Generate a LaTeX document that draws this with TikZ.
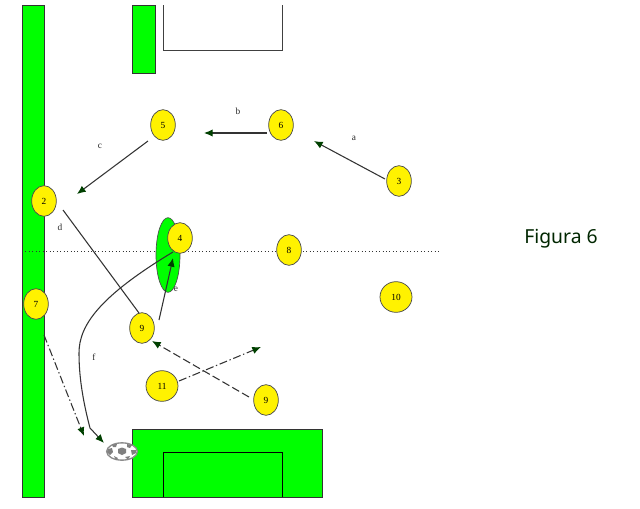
\documentclass[tikz,border=0pt]{standalone}
\usepackage{fontspec}
\setmainfont{Liberation Serif}
\newfontfamily\figfont{Noto Sans}
\usetikzlibrary{arrows.meta,shapes.geometric}
\tikzset{
  x=0.75pt,y=-0.75pt,
  gfill/.style={fill=green,draw=black!80,line width=0.75pt},
  player/.style={ellipse,draw=black!70,fill=yellow,line width=0.55pt,minimum width=18.5pt,minimum height=23pt,inner sep=0pt,font=\fontsize{7}{8}\selectfont},
  bigplayer/.style={player,minimum width=24pt,minimum height=23pt},
  lab/.style={font=\fontsize{7}{8}\selectfont,inner sep=0pt,text=black!85},
  arr/.style={draw=black!80,line width=0.8pt,-{Latex[length=6.5pt,width=5.5pt,color=green!25!black]}},
  dd/.style={arr,dash pattern=on 6pt off 2pt on 1pt off 2pt},
  dsh/.style={arr,dash pattern=on 6pt off 2.5pt},
}
\begin{document}
\begin{tikzpicture}
\useasboundingbox (0,0) rectangle (640,508);
% field
\draw[gfill] (22,5) rectangle (44,497);
\draw[gfill] (132,5) rectangle (155,73);
\draw[draw=black!75,line width=0.7pt] (163,5) -- (163,50) -- (282,50) -- (282,5);
\draw[gfill] (132,429) rectangle (322,497);
\draw[draw=black,line width=0.6pt] (163,497) -- (163,452) -- (282,452) -- (282,497);
% midline
\draw[black!80,line width=0.6pt,dotted] (22,251) -- (439,251);
% marker ellipse
\node[ellipse,draw=black!70,fill=green,line width=0.5pt,minimum width=18pt,minimum height=56pt,inner sep=0pt] (mark) at (168,255) {};
% players
\node[player] (p5) at (163,125) {5};
\node[player] (p6) at (281,125) {6};
\node[player] (p3) at (399,181) {3};
\node[player] (p2) at (44,201) {2};
\node[player] (p4) at (180,238) {4};
\node[player] (p8) at (289,250) {8};
\node[player] (p7) at (36,304) {7};
\node[bigplayer] (p10) at (396,297) {10};
\node[player] (p9a) at (142,328) {9};
\node[bigplayer] (p11) at (162,386) {11};
\node[player] (p9b) at (266,400) {9};
% ball
\node[ellipse,draw=black!45,fill=white,line width=1pt,minimum width=23pt,minimum height=13pt,inner sep=0pt] (ball) at (122,451.5) {};
\fill[black!50] (118,449) -- (122,447.5) -- (126,449) -- (126,453) -- (122,455) -- (118,453) -- cycle;
\fill[black!50] (108,449) -- (112,448) -- (113,452) -- (110,455) -- (107,452) -- cycle;
\fill[black!50] (112,444.5) -- (117,444) -- (116,447) -- (113,447) -- cycle;
\fill[black!50] (127,444) -- (132,445) -- (130,448) -- (127,447) -- cycle;
\fill[black!50] (131,450) -- (136,450) -- (136,453) -- (132,455) -- cycle;
\fill[black!50] (114,456) -- (118,458) -- (116,460) -- cycle;
\fill[black!50] (125,457) -- (130,456) -- (128,459.5) -- cycle;
% free ends
\coordinate (aS) at (385,179); \coordinate (aE) at (314,141);
\coordinate (bS) at (267,133); \coordinate (bE) at (204,133);
\coordinate (cS) at (148,141); \coordinate (cE) at (77,194);
\coordinate (dS) at (63,210);  \coordinate (dE) at (139,313);
\coordinate (eS) at (159,320); \coordinate (eE) at (173,258);
\coordinate (fS) at (173,252); \coordinate (fM) at (90,428); \coordinate (fE) at (104,443);
\coordinate (gS) at (44,335);  \coordinate (gE) at (84,436);
\coordinate (hS) at (249,397); \coordinate (hE) at (152,341);
\coordinate (iS) at (179,381); \coordinate (iE) at (261,347);
% connectors
\draw[arr] (aS) -- (aE);
\draw[arr] (bS) -- (bE);
\draw[arr] (cS) -- (cE);
\draw[draw=black!80,line width=0.8pt] (dS) -- (dE);
\draw[arr] (eS) -- (eE);
\draw[arr] (fS) .. controls (100,296) and (79,325) .. (79,353) .. controls (79,380) and (84,405) .. (fM) -- (fE);
\draw[dd] (gS) -- (gE);
\draw[dsh] (hS) -- (hE);
\draw[dd] (iS) -- (iE);
% labels
\node[lab] (la) at (354,138) {a};
\node[lab] (lb) at (238,111) {b};
\node[lab] (lc) at (100,146) {c};
\node[lab] (ld) at (60,227) {d};
\node[lab] (le) at (176,289) {e};
\node[lab] (lf) at (94,357) {f};
\node[inner sep=0pt,font=\figfont\fontsize{14.5}{16}\selectfont,text=green!15!black] (fig) at (561,239) {Figura 6};
\end{tikzpicture}
\end{document}
